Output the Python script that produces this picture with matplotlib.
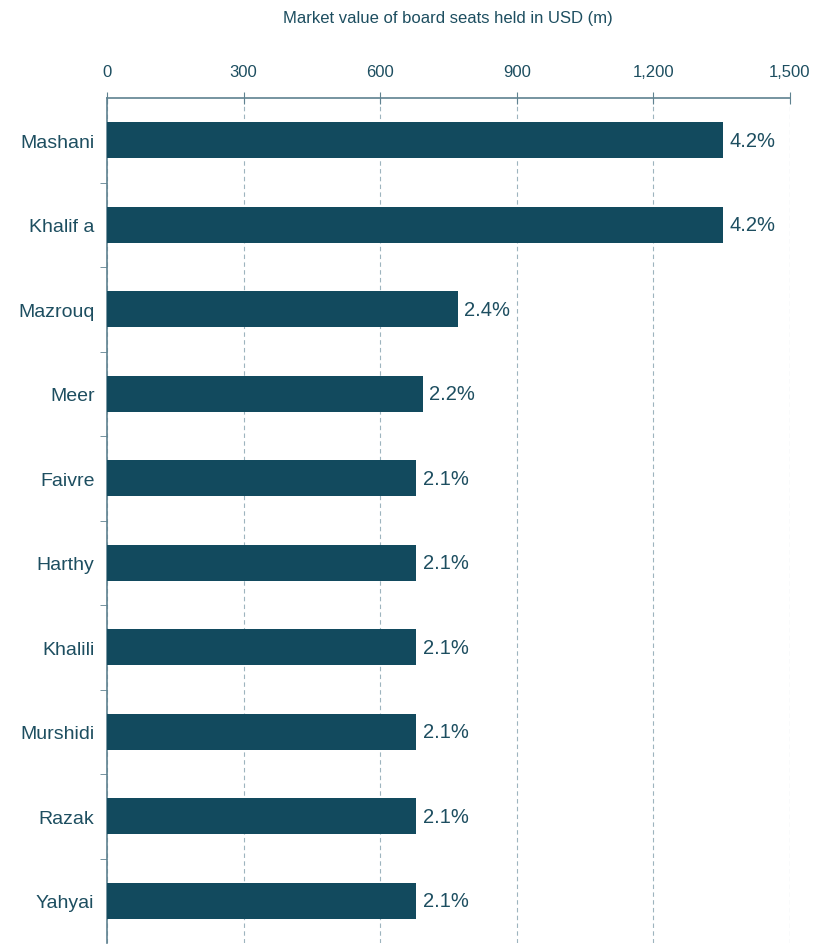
import matplotlib.pyplot as plt
import numpy as np

plt.rcParams['font.family'] = ['Liberation Sans', 'DejaVu Sans']

names = ["Mashani", "Khalif a", "Mazrouq", "Meer", "Faivre", "Harthy",
         "Khalili", "Murshidi", "Razak", "Yahyai"]
values = [1353, 1353, 771, 694, 679, 679, 679, 679, 679, 679]
shares = ["4.2%", "4.2%", "2.4%", "2.2%", "2.1%", "2.1%", "2.1%", "2.1%", "2.1%", "2.1%"]
xticks = [0, 300, 600, 900, 1200, 1500]

bar_col = "#124a5e"
text_col = "#1d4e60"
axis_col = "#5f8290"

fig = plt.figure(figsize=(8.21, 9.45), dpi=100)
ax = fig.add_axes([107/821, 1/945, 683/821, 1 - 100/945])

y = np.arange(len(names))
ax.barh(y, values, height=0.43, color=bar_col, zorder=3)
for yi, v, s in zip(y, values, shares):
    ax.text(v + 14, yi, s, va="center", ha="left", fontsize=14.5, color=text_col)

ax.set_xlim(0, 1500)
ax.set_ylim(len(names) - 0.5, -0.5)
ax.xaxis.tick_top()
ax.set_xticks(xticks)
ax.set_xticklabels([f"{t:,}" for t in xticks], fontsize=12, color=text_col)
ax.tick_params(axis="x", direction="inout", length=8, color=axis_col, pad=10)

# category labels at bar centres, tick marks between categories
ax.set_yticks(y)
ax.set_yticklabels(names, fontsize=14, color=text_col)
ax.tick_params(axis="y", length=0, pad=9)
ax.set_yticks(np.arange(len(names) - 1) + 0.5, minor=True)
ax.tick_params(axis="y", which="minor", length=5, color=axis_col, direction="out")

ax.grid(axis="x", linestyle=(0, (4, 3)), color="#9db4be", linewidth=0.8, zorder=0)
for sp in ["right", "bottom"]:
    ax.spines[sp].set_visible(False)
for sp in ["top", "left"]:
    ax.spines[sp].set_color(axis_col)
    ax.spines[sp].set_linewidth(1.2)

fig.text(448/821, 1 - 18/945, "Market value of board seats held in USD (m)",
         ha="center", va="center", fontsize=12, color=text_col)

fig.savefig("out.png", dpi=100)
